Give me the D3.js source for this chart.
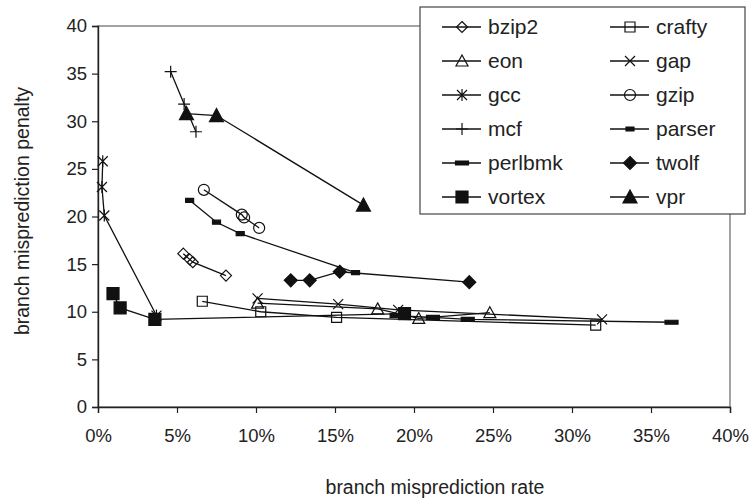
<!DOCTYPE html>
<html>
<head>
<meta charset="utf-8">
<script src="https://cdn.jsdelivr.net/npm/d3@7"></script>
<style>
	body { margin: 0; background: #fff; }
	svg { display: block; font-family: "Liberation Sans", Arial, sans-serif; }
</style>
</head>
<body>
<div id="chart"></div>
<script>

// series names, in legend order
var names = ["bzip2","crafty","eon","gap","gcc","gzip","mcf","parser","perlbmk","twolf","vortex","vpr"];

// [misprediction rate %, penalty]
var bzip2   = [[5.4,16.1],[5.8,15.5],[6.0,15.2],[8.1,13.8]];
var crafty  = [[6.6,11.1],[10.3,10.0],[15.1,9.4],[31.5,8.6]];
var eon     = [[10.1,10.9],[17.7,10.3],[20.3,9.3],[24.8,9.9]];
var gap     = [[10.1,11.4],[15.2,10.8],[19.0,10.2],[31.9,9.2]];
var gcc     = [[0.3,25.8],[0.25,23.1],[0.4,20.1],[3.7,9.6]];
var gzip    = [[6.7,22.8],[9.1,20.2],[9.25,19.9],[10.2,18.8]];
var mcf     = [[4.6,35.2],[5.45,31.8],[6.2,28.9]];
var parser  = [[5.8,21.7],[7.5,19.4],[9.0,18.2],[16.3,14.1]];
var perlbmk = [[18.9,9.6],[21.2,9.4],[23.4,9.2],[36.3,8.9]];
var twolf   = [[12.2,13.3],[13.4,13.3],[15.3,14.2],[23.5,13.1]];
var vortex  = [[0.95,11.9],[1.4,10.4],[3.6,9.2],[19.4,9.8]];
var vpr     = [[5.6,30.8],[7.5,30.6],[16.8,21.2]];

var seriesData = [bzip2,crafty,eon,gap,gcc,gzip,mcf,parser,perlbmk,twolf,vortex,vpr];

var xTicks = [0,5,10,15,20,25,30,35,40];
var yTicks = [0,5,10,15,20,25,30,35,40];

var xTitle = "branch misprediction rate",
	yTitle = "branch misprediction penalty";

/*
 *	LAYOUT
 */
var width = 749, height = 499;
var plot = { left: 98, right: 730, top: 26, bottom: 407 };

var svg = d3.select("#chart").append("svg")
	.attr("width", width)
	.attr("height", height);

var xScale = d3.scaleLinear().domain([0,40]).range([plot.left, plot.right]);
var yScale = d3.scaleLinear().domain([0,40]).range([plot.bottom, plot.top]);

// plot frame
svg.append("rect")
	.attr("x", plot.left).attr("y", plot.top)
	.attr("width", plot.right - plot.left).attr("height", plot.bottom - plot.top)
	.style("fill", "none").style("stroke", "#666").style("stroke-width", 1.2);

// axes
var xAxis = d3.axisBottom(xScale).tickValues(xTicks).tickSize(6).tickPadding(16)
	.tickFormat(function(d){ return d + "%" });
var yAxis = d3.axisLeft(yScale).tickValues(yTicks).tickSize(6).tickPadding(5);

svg.append("g").attr("class","x axis")
	.attr("transform","translate(0,"+ plot.bottom +")")
	.call(xAxis);
svg.append("g").attr("class","y axis")
	.attr("transform","translate("+ plot.left +",0)")
	.call(yAxis);

svg.selectAll(".axis path").style("stroke","#222").style("stroke-width",1.4);
svg.selectAll(".axis line").style("stroke","#222").style("stroke-width",1.2);
svg.selectAll(".axis text").style("font-family","Liberation Sans, Arial, sans-serif")
	.style("font-size","18.5px").style("fill","#222");

// axis titles
svg.append("text")
	.text(xTitle)
	.attr("x", 435).attr("y", 494)
	.style("text-anchor","middle").style("font-size","19.5px").style("fill","#222");
svg.append("text")
	.text(yTitle)
	.attr("transform","translate(29,211) rotate(-90)")
	.style("text-anchor","middle").style("font-size","19.5px").style("fill","#222");

/*
 *	MARKERS
 */
function markerPath(name){
	switch(name){
		case "bzip2":   return "M0,-5.5L5.5,0L0,5.5L-5.5,0Z";
		case "crafty":  return "M-5,-5H5V5H-5Z";
		case "eon":     return "M0,-6L6,5H-6Z";
		case "gap":     return "M-5,-5L5,5M5,-5L-5,5";
		case "gcc":     return "M-5,-5L5,5M5,-5L-5,5M0,-6V6";
		case "gzip":    return d3.symbol(d3.symbolCircle, 95)();
		case "mcf":     return "M-6,0H6M0,-6V6";
		case "parser":  return "M-4,-2H4V2H-4Z";
		case "perlbmk": return "M-6.5,-2H6.5V2H-6.5Z";
		case "twolf":   return "M0,-6.5L6.5,0L0,6.5L-6.5,0Z";
		case "vortex":  return "M-6,-6H6V6H-6Z";
		case "vpr":     return "M0,-7L7,6H-7Z";
	}
}
var filled = { parser:1, perlbmk:1, twolf:1, vortex:1, vpr:1 };

function styleMarker(sel, name){
	sel.attr("d", markerPath(name))
		.style("fill", filled[name] ? "#111" : "none")
		.style("stroke", "#111")
		.style("stroke-width", 1.2);
}

var line = d3.line()
	.x(function(d){ return xScale(d[0]) })
	.y(function(d){ return yScale(d[1]) });

var g = svg.append("g");

// lines first, markers on top
seriesData.forEach(function(data,i){
	g.append("path")
		.datum(data)
		.attr("d", line)
		.style("fill","none").style("stroke","#111").style("stroke-width",1.3);
});
seriesData.forEach(function(data,i){
	g.selectAll(".m"+i)
		.data(data).enter()
		.append("path")
		.attr("class","m"+i)
		.attr("transform", function(d){ return "translate("+ xScale(d[0]) +","+ yScale(d[1]) +")" })
		.call(styleMarker, names[i]);
});

/*
 *	LEGEND
 */
var legend = svg.append("g");
legend.append("rect")
	.attr("x", 420).attr("y", 7).attr("width", 325).attr("height", 207)
	.style("fill","#fff").style("stroke","#444").style("stroke-width",1.2);

names.forEach(function(name,i){
	var col = i % 2, row = Math.floor(i / 2);
	var x0 = col ? 610 : 442,
		y0 = 27 + row * 34;
	var item = legend.append("g").attr("transform","translate("+ x0 +","+ y0 +")");
	item.append("line")
		.attr("x1",0).attr("x2",39).attr("y1",0).attr("y2",0)
		.style("stroke","#111").style("stroke-width",1.3);
	item.append("path")
		.attr("transform","translate(20,0)")
		.call(styleMarker, name);
	item.append("text")
		.text(name)
		.attr("x", 46).attr("y", 7)
		.style("font-size","21px").style("fill","#222");
});

</script>
</body>
</html>
